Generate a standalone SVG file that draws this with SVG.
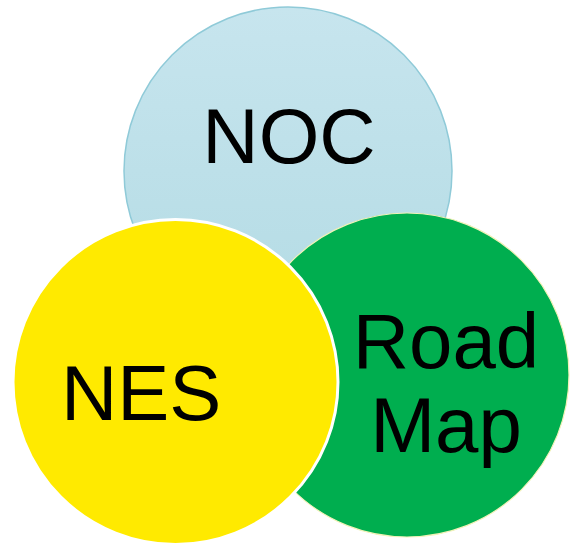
<svg xmlns="http://www.w3.org/2000/svg" width="570" height="544" viewBox="0 0 570 544">
<style>
.lbl{font-family:"Liberation Sans",Arial,sans-serif;font-size:78px;fill:#000}
</style>
<defs>
<linearGradient id="gb" x1="0" y1="0" x2="0" y2="1">
<stop offset="0" stop-color="#c7e5ee"/>
<stop offset="1" stop-color="#b3dbe4"/>
</linearGradient>
</defs>
<rect width="570" height="544" fill="#fff"/>
<g id="noc">
<circle cx="288" cy="171" r="164" fill="url(#gb)" stroke="#8fcad8" stroke-width="1.5"/>
<text class="lbl" x="289" y="163" text-anchor="middle">NOC</text>
</g>
<g id="roadmap">
<circle cx="407" cy="375" r="162" fill="#00ae4f" stroke="#f2f2b8" stroke-width="1.2"/>
<text class="lbl" x="446" y="368" text-anchor="middle">Road</text>
<text class="lbl" x="446" y="452" text-anchor="middle">Map</text>
</g>
<g id="nes">
<circle cx="175.5" cy="382" r="162.5" fill="#ffea00" stroke="#fff" stroke-width="3"/>
<text class="lbl" x="61" y="420">NES</text>
</g>
<g id="connectors"></g>
</svg>
